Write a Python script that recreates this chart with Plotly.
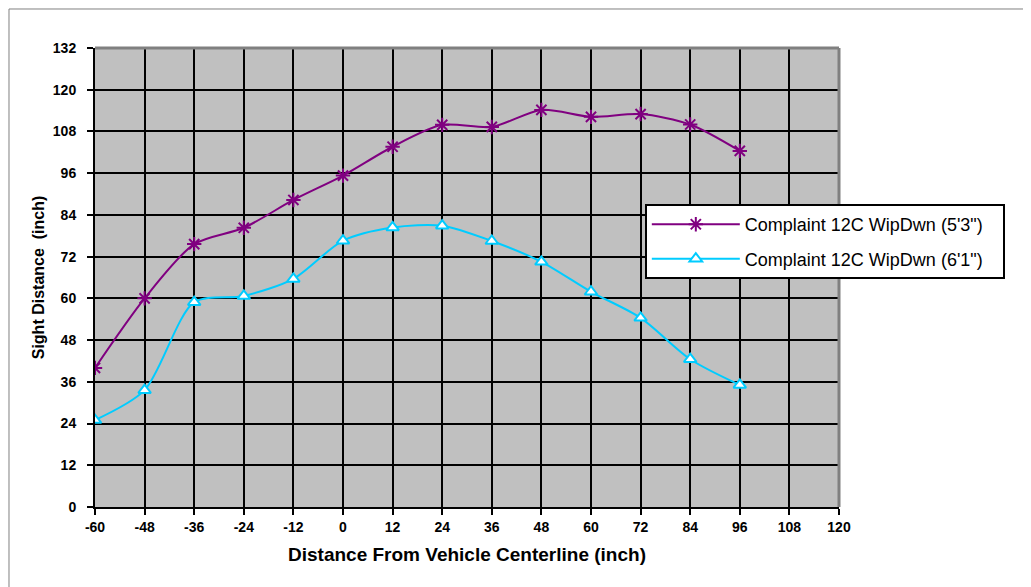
import plotly.graph_objects as go

x_vals = [-60, -48, -36, -24, -12, 0, 12, 24, 36, 48, 60, 72, 84, 96]
series_53 = [40.0, 60.0, 75.6, 80.3, 88.3, 95.3, 103.6, 109.9, 109.3, 114.2, 112.2, 113.0, 110.0, 102.4]
series_61 = [25.0, 33.6, 58.9, 60.7, 65.6, 76.6, 80.4, 80.9, 76.5, 70.5, 61.9, 54.4, 42.5, 35.1]
name_53 = "Complaint 12C WipDwn (5'3\")"
name_61 = "Complaint 12C WipDwn (6'1\")"
x_ticks = list(range(-60, 121, 12))
y_ticks = list(range(0, 133, 12))

FONT = "Arial, Liberation Sans, sans-serif"
PAD = "\u00a0\u00a0\u00a0"

fig = go.Figure()
fig.add_trace(go.Scatter(
    x=x_vals, y=series_53, name=name_53 + PAD, mode="lines+markers", legendgroup="a",
    line=dict(color="#800080", width=2, shape="spline", smoothing=0.8),
    marker=dict(symbol="asterisk-open", size=12, color="#800080",
                line=dict(color="#800080", width=2)),
))
fig.add_trace(go.Scatter(
    x=x_vals, y=series_61, name=name_61 + PAD, mode="lines+markers", legendgroup="b",
    line=dict(color="#00CCFF", width=2, shape="spline", smoothing=0.8),
    marker=dict(symbol="triangle-up", size=11, color="white",
                line=dict(color="#00CCFF", width=2)),
))

fig.update_layout(
    width=1031, height=587,
    margin=dict(l=87, r=200, t=40, b=88),
    paper_bgcolor="white",
    plot_bgcolor="#C0C0C0",
    font=dict(family=FONT, color="black"),
    showlegend=True,
    legend=dict(
        x=0.739, y=0.66, xanchor="left", yanchor="top",
        bgcolor="white", bordercolor="black", borderwidth=2,
        font=dict(family=FONT, size=18, color="black"),
        itemwidth=88, tracegroupgap=8,
    ),
    xaxis=dict(
        range=[-60, 120], tickmode="array", tickvals=x_ticks,
        ticktext=[str(v) for v in x_ticks],
        showgrid=True, gridcolor="black", gridwidth=2,
        showline=True, linecolor="black", linewidth=2,
        ticks="outside", ticklen=6, tickwidth=2, tickcolor="black",
        tickfont=dict(family=FONT, size=14, color="black", weight="bold"),
        zeroline=False, mirror=False,
        title=dict(text="<b>Distance From Vehicle Centerline (inch)</b>",
                   font=dict(family=FONT, size=19, color="black"),
                   standoff=14),
    ),
    yaxis=dict(
        range=[0, 132], tickmode="array", tickvals=y_ticks,
        ticktext=[str(v) for v in y_ticks],
        showgrid=True, gridcolor="black", gridwidth=2,
        showline=True, linecolor="black", linewidth=2,
        ticks="outside", ticklen=6, tickwidth=2, tickcolor="black",
        ticklabelstandoff=8,
        tickfont=dict(family=FONT, size=14, color="black", weight="bold"),
        zeroline=False,
        title=dict(text="<b>Sight Distance  (inch)</b>",
                   font=dict(family=FONT, size=16, color="black"),
                   standoff=4),
    ),
    shapes=[
        dict(type="line", xref="paper", yref="paper", x0=0, x1=1, y0=1, y1=1,
             line=dict(color="#808080", width=3)),
        dict(type="line", xref="paper", yref="paper", x0=1, x1=1, y0=0, y1=1,
             line=dict(color="#808080", width=3)),
        dict(type="line", xref="paper", yref="paper", x0=-0.1156, x1=1.5, y0=1.085, y1=1.085,
             line=dict(color="#808080", width=1)),
        dict(type="line", xref="paper", yref="paper", x0=-0.1156, x1=-0.1156, y0=-0.5, y1=1.085,
             line=dict(color="#808080", width=1)),
    ],
)

fig.write_html("out.html")
